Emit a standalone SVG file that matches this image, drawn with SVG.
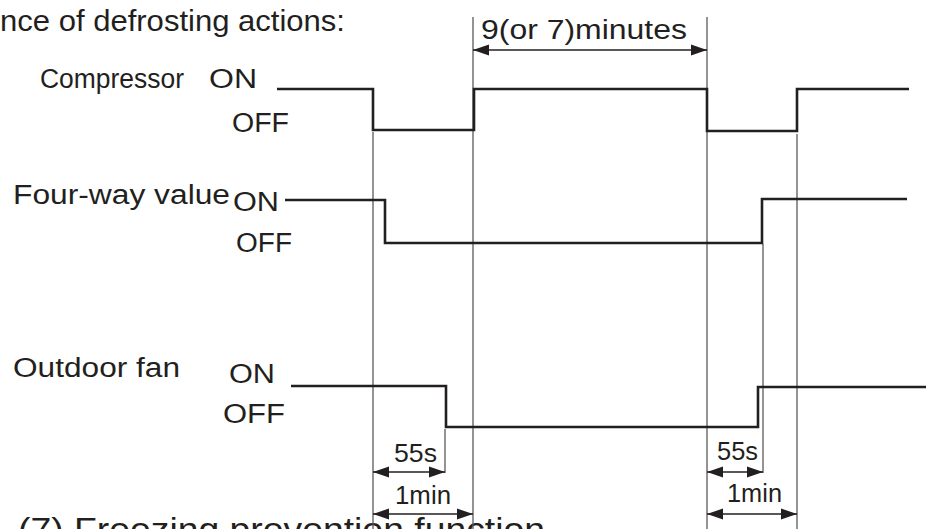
<svg xmlns="http://www.w3.org/2000/svg" width="926" height="529" viewBox="0 0 926 529">
<style>
text{font-family:"Liberation Sans",Arial,sans-serif;fill:#231f20}
.lbl{font-size:27px}
.sm{font-size:25px}
.wave{fill:none;stroke:#231f20;stroke-width:2.6;stroke-linejoin:miter}
.guide{stroke:#5a5a5a;stroke-width:1.3;fill:none}
.dim{stroke:#231f20;stroke-width:1.3;fill:none;marker-start:url(#ah);marker-end:url(#ah)}
</style>
<defs>
<marker id="ah" markerUnits="userSpaceOnUse" markerWidth="17" markerHeight="12" refX="16" refY="6" orient="auto-start-reverse">
<path d="M0,0.5 L16,6 L0,11.5 Z" fill="#231f20"/>
</marker>
</defs>
<rect width="926" height="529" fill="#fff"/>
<text x="0" y="31" font-size="29" textLength="345" lengthAdjust="spacingAndGlyphs">nce of defrosting actions:</text>
<text x="18" y="541" font-size="34" textLength="527" lengthAdjust="spacingAndGlyphs">(7) Freezing prevention function</text>
<g id="compressor">
<text class="lbl" x="40" y="88" textLength="144" lengthAdjust="spacingAndGlyphs">Compressor</text>
<text class="lbl" x="209" y="88" textLength="48" lengthAdjust="spacingAndGlyphs">ON</text>
<text class="lbl" x="232" y="132" textLength="57" lengthAdjust="spacingAndGlyphs">OFF</text>
</g>
<g id="four-way-valve">
<text class="lbl" x="13" y="204" textLength="217" lengthAdjust="spacingAndGlyphs">Four-way value</text>
<text class="lbl" x="233" y="211" textLength="46" lengthAdjust="spacingAndGlyphs">ON</text>
<text class="lbl" x="236" y="252" textLength="56" lengthAdjust="spacingAndGlyphs">OFF</text>
</g>
<g id="outdoor-fan">
<text class="lbl" x="13" y="377" textLength="167" lengthAdjust="spacingAndGlyphs">Outdoor fan</text>
<text class="lbl" x="229" y="383" textLength="46" lengthAdjust="spacingAndGlyphs">ON</text>
<text class="lbl" x="223" y="423" textLength="62" lengthAdjust="spacingAndGlyphs">OFF</text>
</g>
<g id="connectors">
<g id="guides">
<line class="guide" x1="373" y1="132" x2="373" y2="529"/>
<line class="guide" x1="473" y1="17" x2="473" y2="529"/>
<line class="guide" x1="707" y1="17" x2="707" y2="529"/>
<line class="guide" x1="797" y1="134" x2="797" y2="529"/>
<line class="guide" x1="763" y1="244" x2="763" y2="473"/>
<line class="guide" x1="445" y1="429" x2="445" y2="473"/>
</g>
<g id="waves">
<path class="wave" d="M277,89 H373 V130 H474 V89 H707 V131 H797 V89 H909"/>
<path class="wave" d="M285,200 H385 V243 H762 V199 H907"/>
<path class="wave" d="M291,386 H446 V427 H758 V387 H926"/>
</g>
<g id="dims">
<line class="dim" x1="473" y1="50" x2="707" y2="50"/>
<line class="dim" x1="373" y1="472" x2="445" y2="472"/>
<line class="dim" x1="373" y1="514" x2="473" y2="514"/>
<line class="dim" x1="707" y1="472" x2="763" y2="472"/>
<line class="dim" x1="707" y1="514" x2="797" y2="514"/>
</g>
</g>
<g id="dim-labels">
<text class="lbl" x="481" y="39" textLength="206" lengthAdjust="spacingAndGlyphs">9(or 7)minutes</text>
<text class="sm" x="394" y="462" textLength="43" lengthAdjust="spacingAndGlyphs">55s</text>
<text class="sm" x="395" y="504" textLength="56" lengthAdjust="spacingAndGlyphs">1min</text>
<text class="sm" x="717" y="460" textLength="41" lengthAdjust="spacingAndGlyphs">55s</text>
<text class="sm" x="727" y="502" textLength="55" lengthAdjust="spacingAndGlyphs">1min</text>
</g>
</svg>
